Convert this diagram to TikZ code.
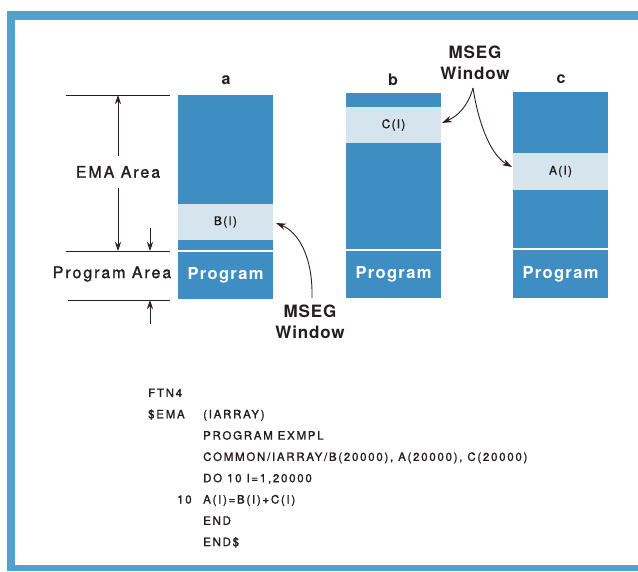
\documentclass[tikz,border=0pt]{standalone}
\usepackage{fontspec}
\setmainfont{TeX Gyre Heros}
\newfontfamily\lblfont[LetterSpace=12,FakeBold=1.2]{TeX Gyre Heros}
\newfontfamily\codefont[LetterSpace=15,FakeBold=1.2]{TeX Gyre Heros}
\newfontfamily\winfont[LetterSpace=10,FakeBold=1]{TeX Gyre Heros}
\newfontfamily\progfont[LetterSpace=8]{TeX Gyre Heros}
\newfontfamily\msegfont[LetterSpace=5]{TeX Gyre Heros}
\usetikzlibrary{arrows.meta}
\definecolor{colblue}{RGB}{62,142,196}
\definecolor{frameblue}{RGB}{80,160,208}
\definecolor{winblue}{RGB}{214,229,237}
\definecolor{ink}{RGB}{35,28,32}
\definecolor{arrink}{RGB}{55,25,35}
\tikzset{
  blk/.style={fill=colblue, draw=none, inner sep=0pt, outer sep=0pt, anchor=north west, minimum width=95},
  win/.style={fill=winblue, draw=none, inner sep=0pt, outer sep=0pt, anchor=north west, minimum width=95,
    text=ink, font=\winfont\fontsize{12}{14}\selectfont},
  prog/.style={blk, text=white, font=\progfont\bfseries\fontsize{16.5}{19}\selectfont},
  colhead/.style={text=ink, font=\bfseries\fontsize{16}{18}\selectfont},
  mseg/.style={text=ink, align=center, font=\msegfont\bfseries\fontsize{17}{20.5}\selectfont},
  area/.style={text=ink, font=\lblfont\fontsize{16}{18}\selectfont},
  code/.style={text=ink, anchor=base west, inner sep=0pt, font=\codefont\fontsize{11.5}{13}\selectfont},
  dimline/.style={draw=ink, line width=0.8pt},
  dimarrow/.style={draw=arrink, line width=0.8pt, -{Stealth[length=9pt,width=6pt]}},
  callout/.style={draw=arrink, line width=0.9pt, -{Stealth[length=10pt,width=6.5pt]}}
}
\begin{document}
\begin{tikzpicture}[x=1pt,y=-1pt]
\useasboundingbox (0,0) rectangle (638,572);
% frame
\fill[frameblue] (7,11) rectangle (638,20);
\fill[frameblue] (7,11) rectangle (15,571);
\fill[frameblue] (7,565) rectangle (638,571);

% column a
\node[blk, minimum height=109] (aTop) at (178,95) {};
\node[win, minimum height=36] (aWin) at (178,204) {B(I)};
\node[blk, minimum height=10] (aLow) at (178,240) {};
\node[prog, minimum height=47] (aProg) at (178,252) {Program};
% column b
\node[blk, minimum height=14] (bTop) at (346,93) {};
\node[win, minimum height=36] (bWin) at (346,107) {C(I)};
\node[blk, minimum height=106] (bLow) at (346,143) {};
\node[prog, minimum height=47] (bProg) at (346,251) {Program};
% column c
\node[blk, minimum height=61] (cTop) at (513,92) {};
\node[win, minimum height=37] (cWin) at (513,153) {A(I)};
\node[blk, minimum height=58] (cLow) at (513,190) {};
\node[prog, minimum height=48] (cProg) at (513,250) {Program};

% column heads
\node[colhead] (ha) at (226,80) {a};
\node[colhead] (hb) at (393,80) {b};
\node[colhead] (hc) at (561,79) {c};

% MSEG labels
\node[mseg] (msegTop) at (475,63) {MSEG\\Window};
\node[mseg] (msegBot) at (310,322) {MSEG\\Window};
\coordinate (mtS) at (473,88);
\coordinate (mbS) at (312,298);
\coordinate (cEnd) at (442,123);
\coordinate (aEnd) at (512,167);
\coordinate (bEnd) at (276,223);
\draw[callout] (mtS) .. controls (468,106) and (458,116) .. (cEnd);
\draw[callout] (mtS) .. controls (479,127) and (492,156) .. (aEnd);
\draw[callout] (mbS) .. controls (313,256) and (298,232) .. (bEnd);

% dimension lines
\coordinate (l1a) at (66,95);  \coordinate (l1b) at (170,95);
\coordinate (l2a) at (66,251); \coordinate (l2b) at (170,251);
\coordinate (l3a) at (68,300); \coordinate (l3b) at (170,300);
\draw[dimline] (l1a) -- (l1b);
\draw[dimline] (l2a) -- (l2b);
\draw[dimline] (l3a) -- (l3b);

\node[area] (ema) at (118,172) {EMA Area};
\node[area] (parea) at (112,274) {Program Area};
\coordinate (eU) at (118,156);
\coordinate (eT) at (118,95);
\coordinate (eD) at (118,188);
\coordinate (eB) at (118,251);
\draw[dimarrow] (eU) -- (eT);
\draw[dimarrow] (eD) -- (eB);
\coordinate (pU) at (150,228);
\coordinate (pT) at (150,251);
\coordinate (pD) at (150,324);
\coordinate (pB) at (150,300);
\draw[dimarrow] (pU) -- (pT);
\draw[dimarrow] (pD) -- (pB);

% code listing
\node[code] (c1) at (148,397) {FTN4};
\node[code] (c2) at (148,418.3) {\$EMA};
\node[code] (c2b) at (203,418.3) {(IARRAY)};
\node[code] (c3) at (203,439.6) {PROGRAM EXMPL};
\node[code] (c4) at (203,460.9) {COMMON/IARRAY/B(20000), A(20000), C(20000)};
\node[code] (c5) at (203,482.2) {DO 10 I=1,20000};
\node[code] (c6a) at (177,503.5) {10};
\node[code] (c6) at (203,503.5) {A(I)=B(I)+C(I)};
\node[code] (c7) at (203,524.8) {END};
\node[code] (c8) at (203,546.1) {END\$};
\end{tikzpicture}
\end{document}
